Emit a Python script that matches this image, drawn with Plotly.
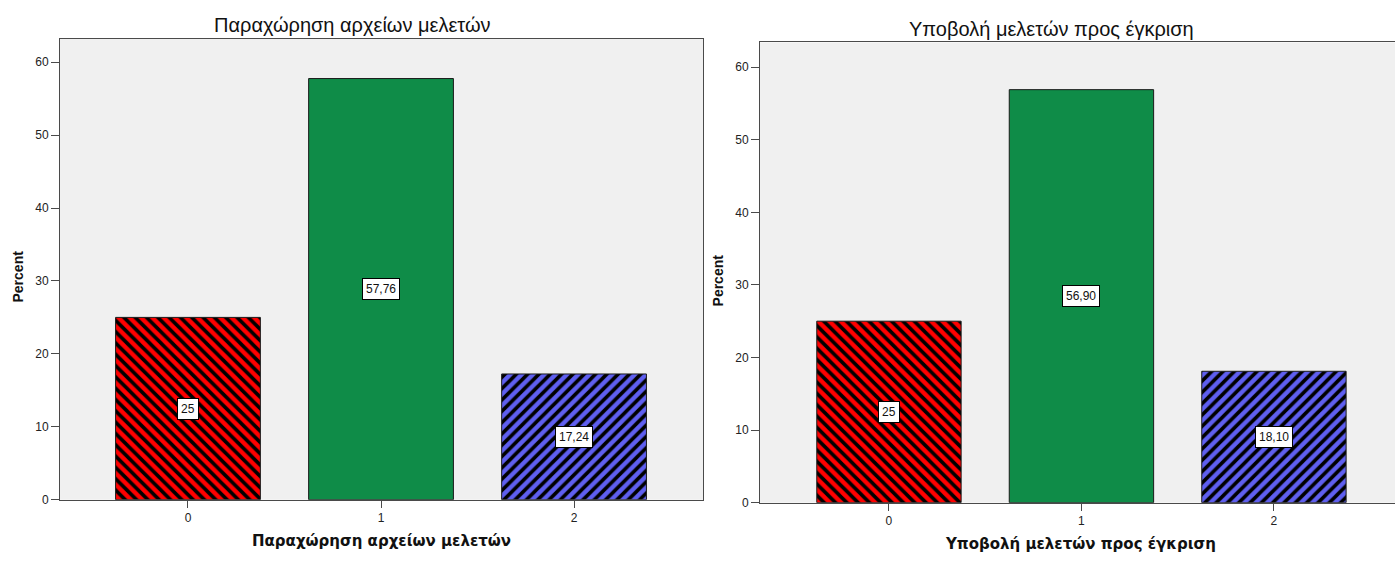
import plotly.graph_objects as go

# ---- data ----
categories = [0, 1, 2]
left_title = "Παραχώρηση αρχείων μελετών"
left_values = [25.00, 57.76, 17.24]
left_labels = ["25", "57,76", "17,24"]

right_title = "Υποβολή μελετών προς έγκριση"
right_values = [25.00, 56.90, 18.10]
right_labels = ["25", "56,90", "18,10"]

y_title = "Percent"
y_ticks = [0, 10, 20, 30, 40, 50, 60]

bar_colors = ["#FF0000", "#0F8C48", "#5F5FF0"]
bar_patterns = ["\\", "", "/"]

W, H = 1395, 561
LINE = "#4a4a4a"
TICKFONT = dict(family="Liberation Sans, Arial, sans-serif", size=12, color="#222222")

fig = go.Figure()

for vals, ax in [(left_values, ""), (right_values, "2")]:
    for c, v, col, pat in zip(categories, vals, bar_colors, bar_patterns):
        marker = dict(color=col, line=dict(color="#1a1a1a", width=1))
        if pat:
            marker["pattern"] = dict(shape=pat, fillmode="overlay", fgcolor="black",
                                     fgopacity=1, size=8, solidity=0.45)
        fig.add_trace(go.Bar(
            x=[c], y=[v], width=0.75,
            xaxis="x" + ax, yaxis="y" + ax,
            marker=marker,
            showlegend=False, hoverinfo="skip",
        ))

def px_x(p):
    return p / W

def px_y(p):
    return 1 - p / H

common_x = dict(showgrid=False, zeroline=False, showline=True, linecolor=LINE, linewidth=1,
                ticks="outside", ticklen=7, tickcolor=LINE, tickwidth=1,
                tickvals=categories, ticktext=[str(c) for c in categories],
                tickfont=TICKFONT, fixedrange=True)
common_y = dict(showgrid=False, zeroline=False, showline=True, linecolor=LINE, linewidth=1,
                ticks="outside", ticklen=8, tickcolor=LINE, tickwidth=1,
                tickvals=y_ticks, tickfont=TICKFONT, fixedrange=True)

fig.update_layout(
    width=W, height=H, autosize=False,
    margin=dict(l=0, r=0, t=0, b=0),
    paper_bgcolor="white", plot_bgcolor="#F0F0F0",
    barmode="overlay",
    xaxis=dict(common_x, domain=[px_x(60), px_x(703)], range=[-0.663, 2.668], mirror=True, anchor="y"),
    yaxis=dict(common_y, domain=[px_y(506), px_y(39)], range=[0, 63.25], mirror=True, anchor="x"),
    xaxis2=dict(common_x, domain=[px_x(760), 1.0], range=[-0.670, 2.629], mirror=True, anchor="y2"),
    yaxis2=dict(common_y, domain=[px_y(509), px_y(43)], range=[0, 63.4], mirror=False, anchor="x2"),
)

ann = []
TITLEFONT = dict(family="Liberation Sans, Arial, sans-serif", size=20, color="#111111")
ann.append(dict(text=left_title, x=px_x(352), y=px_y(25), xref="paper", yref="paper",
                showarrow=False, xanchor="center", yanchor="middle", font=TITLEFONT))
ann.append(dict(text=right_title, x=px_x(1051), y=px_y(29), xref="paper", yref="paper",
                showarrow=False, xanchor="center", yanchor="middle", font=TITLEFONT))
XTFONT = dict(family="DejaVu Sans, sans-serif", size=15, color="#111111")
ann.append(dict(text="<b>" + left_title + "</b>", x=px_x(381), y=px_y(548), xref="paper", yref="paper",
                showarrow=False, xanchor="center", yanchor="middle", font=XTFONT))
ann.append(dict(text="<b>" + right_title + "</b>", x=px_x(1080), y=px_y(551), xref="paper", yref="paper",
                showarrow=False, xanchor="center", yanchor="middle", font=XTFONT))
for xp, yp in [(18, 280), (718, 284)]:
    ann.append(dict(text="<b>" + y_title + "</b>", x=px_x(xp), y=px_y(yp), xref="paper", yref="paper",
                    showarrow=False, textangle=-90, xanchor="center", yanchor="middle",
                    font=dict(family="Liberation Sans, Arial, sans-serif", size=14, color="#111111")))
for vals, labels, ax in [(left_values, left_labels, ""), (right_values, right_labels, "2")]:
    for c, v, lab in zip(categories, vals, labels):
        ann.append(dict(text=lab, x=c, y=v / 2, xref="x" + ax, yref="y" + ax,
                        showarrow=False, xanchor="center", yanchor="middle",
                        bgcolor="white", bordercolor="black", borderwidth=1, borderpad=3,
                        font=dict(family="Liberation Sans, Arial, sans-serif", size=12, color="#111111")))

fig.update_layout(annotations=ann)

fig.write_html("out.html", config={"displayModeBar": False, "responsive": False, "staticPlot": True})

# remove the default browser body margin so the figure sits at the page origin
with open("out.html", "r", encoding="utf-8") as f:
    html = f.read()
html = html.replace("<head>", "<head><style>html,body{margin:0;padding:0;overflow:hidden;}</style>", 1)
with open("out.html", "w", encoding="utf-8") as f:
    f.write(html)
